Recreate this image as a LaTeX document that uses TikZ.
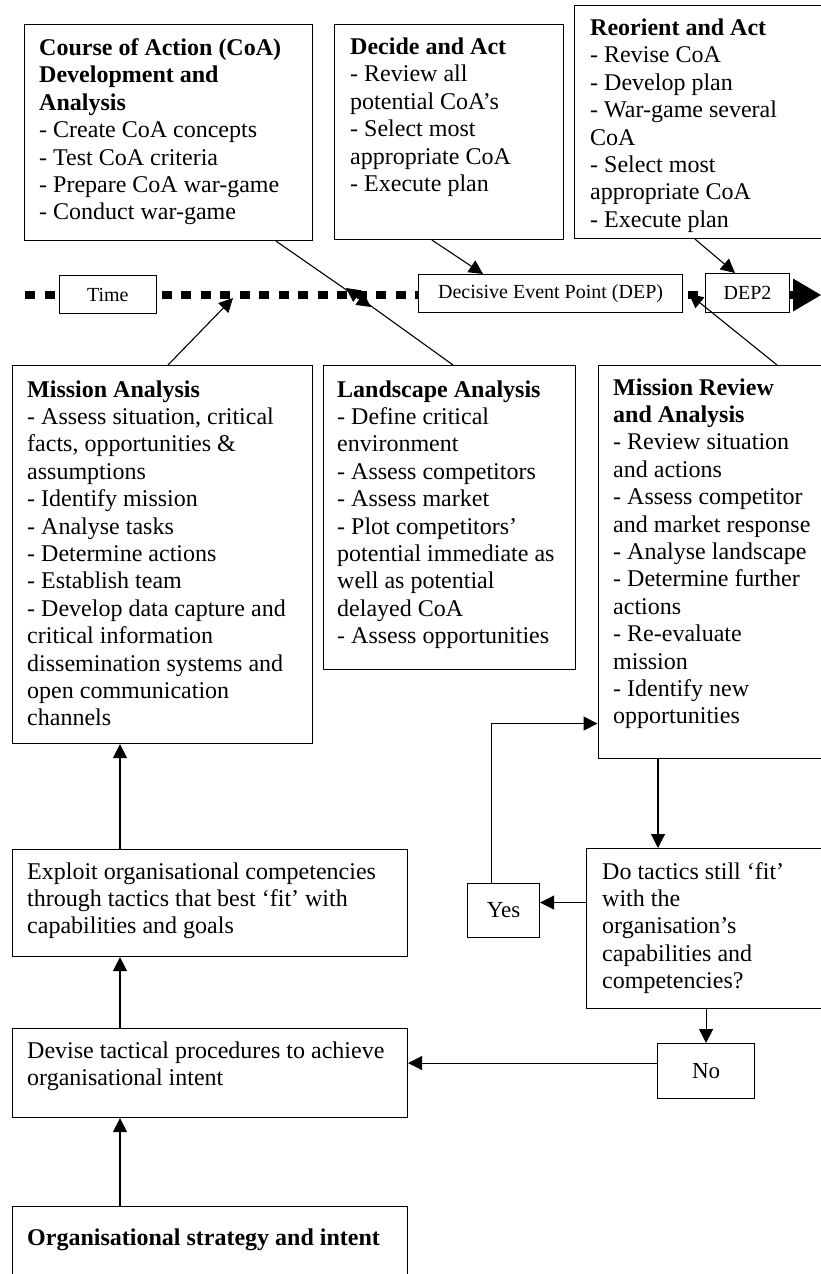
\documentclass[tikz,border=0pt]{standalone}
\usepackage{fontspec}
\setmainfont{Liberation Serif}
\usetikzlibrary{arrows.meta}
\newcommand\tlines[1]{\begin{tabular}[t]{@{}l@{}}#1\end{tabular}}
\begin{document}
\begin{tikzpicture}[x=1pt,y=-1pt,
  boxn/.style={draw=black, line width=1.1pt, fill=white, inner sep=0pt, anchor=north west},
  cbox/.style={boxn, font=\fontsize{23}{27}\selectfont},
  tbox/.style={boxn, font=\fontsize{20}{24}\selectfont},
  txt/.style={inner sep=0pt, anchor=base west, font=\fontsize{24}{27.4}\selectfont},
  arr/.style={line width=1.1pt, -{Triangle[length=14pt,width=14pt]}},
]
\useasboundingbox (0,0) rectangle (821,1274);
\fill[white] (0,0) rectangle (821,1274);
\clip (0,0) rectangle (821,1274);

% time line
\draw[line width=8pt, dash pattern=on 10pt off 9.5pt] (25,295) -- (793,295);
\fill (793,278.5) -- (821,295) -- (793,311.5) -- cycle;

% top boxes
\node[boxn, minimum width=288pt, minimum height=216pt] (coa) at (23.5,24) {};
\node[txt] (coat) at (39,55.5) {\tlines{\textbf{Course of Action (CoA)}\\ \textbf{Development and}\\ \textbf{Analysis}\\ - Create CoA concepts\\ - Test CoA criteria\\ - Prepare CoA war-game\\ - Conduct war-game}};

\node[boxn, minimum width=229pt, minimum height=215pt] (decide) at (334,24) {};
\node[txt] (decidet) at (350,54.5) {\tlines{\textbf{Decide and Act}\\ - Review all\\ potential CoA’s\\ - Select most\\ appropriate CoA\\ - Execute plan}};

\node[boxn, minimum width=266pt, minimum height=233pt] (reorient) at (574,5) {};
\node[txt] (reorientt) at (590,35.5) {\tlines{\textbf{Reorient and Act}\\ - Revise CoA\\ - Develop plan\\ - War-game several\\ CoA\\ - Select most\\ appropriate CoA\\ - Execute plan}};

% time line boxes
\node[tbox, minimum width=96.5pt, minimum height=38pt] (time) at (59,275) {Time};
\node[tbox, minimum width=264pt, minimum height=38pt] (dep) at (418,274) {Decisive Event Point (DEP)};
\node[tbox, minimum width=84pt, minimum height=39pt] (dep2) at (705,273) {DEP2};

% middle boxes
\node[boxn, minimum width=300pt, minimum height=378pt] (ma) at (12,365) {};
\node[txt] (mat) at (27,397) {\tlines{\textbf{Mission Analysis}\\ - Assess situation, critical\\ facts, opportunities \&\\ assumptions\\ - Identify mission\\ - Analyse tasks\\ - Determine actions\\ - Establish team\\ - Develop data capture and\\ critical information\\ dissemination systems and\\ open communication\\ channels}};

\node[boxn, minimum width=252pt, minimum height=304pt] (la) at (323,365) {};
\node[txt] (lat) at (337,397) {\tlines{\textbf{Landscape Analysis}\\ - Define critical\\ environment\\ - Assess competitors\\ - Assess market\\ - Plot competitors’\\ potential immediate as\\ well as potential\\ delayed CoA\\ - Assess opportunities}};

\node[boxn, minimum width=242.5pt, minimum height=393pt] (mr) at (597.5,365) {};
\node[txt] (mrt) at (613,395) {\tlines{\textbf{Mission Review}\\ \textbf{and Analysis}\\ - Review situation\\ and actions\\ - Assess competitor\\ and market response\\ - Analyse landscape\\ - Determine further\\ actions\\ - Re-evaluate\\ mission\\ - Identify new\\ opportunities}};

% lower boxes
\node[boxn, minimum width=254pt, minimum height=160pt] (dt) at (586,848) {};
\node[txt] (dtt) at (602,879) {\tlines{Do tactics still ‘fit’\\ with the\\ organisation’s\\ capabilities and\\ competencies?}};

\node[cbox, minimum width=72pt, minimum height=54pt] (yes) at (467,883) {Yes};
\node[cbox, minimum width=97pt, minimum height=55pt] (no) at (657,1043) {No};

\node[boxn, minimum width=395pt, minimum height=107pt] (ex) at (12,849) {};
\node[txt] (ext) at (27,879) {\tlines{Exploit organisational competencies\\ through tactics that best ‘fit’ with\\ capabilities and goals}};

\node[boxn, minimum width=395pt, minimum height=89pt] (dv) at (12,1028) {};
\node[txt] (dvt) at (27,1058) {\tlines{Devise tactical procedures to achieve\\ organisational intent}};

\node[boxn, minimum width=395pt, minimum height=100pt] (og) at (12,1206) {};
\node[txt] (ogt) at (27,1245) {\textbf{Organisational strategy and intent}};

% arrow tips on the time line
\coordinate (t1) at (233,298);
\coordinate (t2) at (346,288);
\coordinate (t3) at (371,307);
\coordinate (t4) at (483,274);
\coordinate (t5) at (735,273);
\coordinate (t6) at (689,294);

\draw[arr] ([xshift=252.5pt]coa.south west) -- (t3);
\draw[arr] ([xshift=130pt]la.north west) -- (t2);
\draw[arr] ([xshift=156pt]ma.north west) -- (t1);
\draw[arr] ([xshift=98pt]decide.south west) -- (t4);
\draw[arr] ([xshift=121pt]reorient.south west) -- (t5);
\draw[arr] ([xshift=179.5pt]mr.north west) -- (t6);

% vertical flow
\draw[arr] ([xshift=108pt]og.north west) -- ([xshift=108pt]dv.south west);
\draw[arr] ([xshift=108pt]dv.north west) -- ([xshift=108pt]ex.south west);
\draw[arr] ([xshift=108pt]ex.north west) -- ([xshift=108pt]ma.south west);

\draw[arr] ([xshift=60.5pt]mr.south west) -- ([xshift=60.5pt]mr.south west |- dt.north);
\draw[arr] (dt.south -| no.north) -- (no.north);
\draw[arr] ([yshift=8pt]yes.east -| dt.west) -- ([yshift=8pt]yes.east);
\draw[arr] ([xshift=-12pt]yes.north) |- ([yshift=-161.5pt]mr.west);
\draw[arr] ([yshift=8pt]no.west) -- ([yshift=8pt]no.west -| dv.east);
\end{tikzpicture}
\end{document}
